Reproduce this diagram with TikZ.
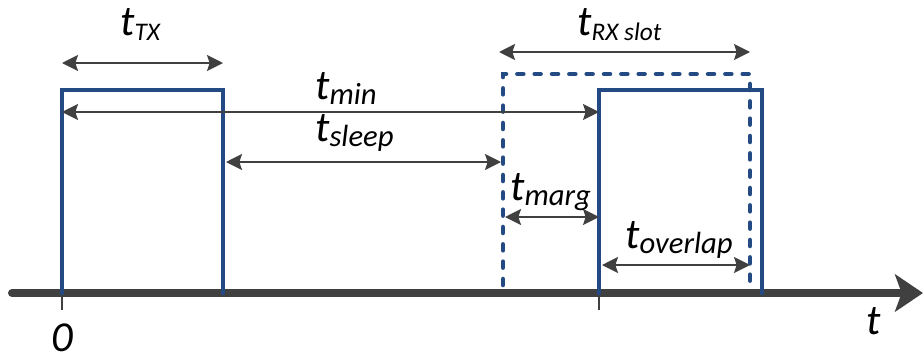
\documentclass[tikz,border=0pt]{standalone}
\usepackage{fontspec}
\setmainfont{Carlito}
\usetikzlibrary{arrows.meta}
\definecolor{pulseblue}{RGB}{35,74,130}
\definecolor{axisgray}{RGB}{64,64,64}
\newcommand{\tsub}[2]{t\raisebox{-4pt}{\fontsize{#1}{#1}\selectfont #2}}
\tikzset{
  pulse/.style={draw=pulseblue, line width=3.4pt, line cap=round},
  slotbox/.style={pulse, dash pattern=on 4.5pt off 8.5pt},
  dim/.style={draw=axisgray, line width=1.5pt, {Stealth[length=12pt,width=12pt,inset=2pt]}-{Stealth[length=12pt,width=12pt,inset=2pt]}},
  lab/.style={anchor=base west, inner sep=0pt, font=\fontsize{32}{36}\selectfont\itshape}
}
\begin{document}
\begin{tikzpicture}[x=0.75pt, y=-0.75pt]
\useasboundingbox (0,0) rectangle (923,358);

% Edges of the pulses
\coordinate (txL) at (62,90);
\coordinate (txR) at (223,90);
\coordinate (slotL) at (503,74);
\coordinate (slotR) at (750,74);
\coordinate (rxL) at (599,90);
\coordinate (rxR) at (762,90);
\coordinate (axisL) at (12,293);
\coordinate (axisR) at (923,293);

% Time axis with ticks
\draw[draw=axisgray, line width=6pt, line cap=round, -{Stealth[length=21pt,width=28pt,inset=5pt]}] (axisL) -- (axisR);
\draw[draw=axisgray, line width=2.2pt] (txL |- axisR) -- ++(0,17);
\draw[draw=axisgray, line width=2.2pt] (rxL |- axisR) -- ++(0,17);

% Pulses
\draw[pulse] (txL |- axisR) -- (txL) -- (txR) -- (txR |- axisR);
\draw[slotbox] (slotL |- 0,285) -- (slotL) -- (slotR) -- (slotR |- 0,285);
\draw[pulse] (rxL |- axisR) -- (rxL) -- (rxR) -- (rxR |- axisR);

% Durations
\draw[dim] (txL |- 0,63) -- (txR |- 0,63);
\draw[dim] (499,52) -- (slotR |- 0,52);
\draw[dim] (txL |- 0,112) -- (rxL |- 0,112);
\draw[dim] (226,162) -- (501,162);
\draw[dim] (505,217) -- (rxL |- 0,217);
\draw[dim] (602,265) -- (slotR |- 0,265);

% Labels
\node[lab] (ltx) at (120,35) {\tsub{19}{TX}};
\node[lab] (lrx) at (577,35) {\tsub{19}{RX slot}};
\node[lab] (lmin) at (315,99) {\tsub{23}{min}};
\node[lab] (lsleep) at (315,141) {\tsub{23}{sleep}};
\node[lab] (lmarg) at (510,200) {\tsub{23}{marg}};
\node[lab] (lover) at (625,248) {\tsub{23}{overlap}};
\node[lab, anchor=base] (lzero) at (62,351) {0};
\node[lab] (lt) at (866,334) {t};
\end{tikzpicture}
\end{document}
